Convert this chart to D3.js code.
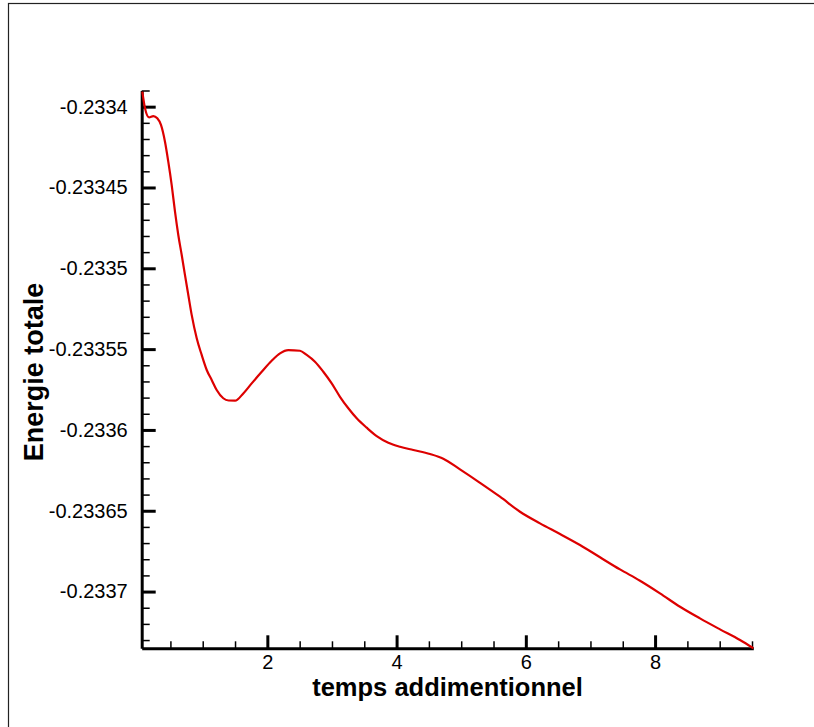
<!DOCTYPE html>
<html>
<head>
<meta charset="utf-8">
<script src="https://cdn.jsdelivr.net/npm/d3@7"></script>
<style>
  html, body { margin: 0; padding: 0; background: #fff; }
  svg { display: block; }
  text { font-family: "Liberation Sans", Arial, sans-serif; }
</style>
</head>
<body>
<script>
// ---- data ----
const tData = [0.065, 0.107, 0.169, 0.235, 0.297, 0.354, 0.416, 0.467, 0.52, 0.571, 0.622, 0.675, 0.725, 0.777, 0.83, 0.907, 0.984, 1.062, 1.139, 1.216, 1.318, 1.4, 1.5, 1.628, 1.758, 1.913, 2.067, 2.196, 2.325, 2.505, 2.609, 2.737, 2.866, 2.996, 3.124, 3.253, 3.383, 3.537, 3.692, 3.872, 4.053, 4.259, 4.517, 4.723, 4.981, 5.291, 5.6, 5.91, 6.219, 6.529, 6.838, 7.148, 7.457, 7.767, 8.076, 8.386, 8.695, 9.005, 9.314, 9.52];
const eData = [-0.2333907, -0.233401, -0.2334066, -0.2334058, -0.2334072, -0.2334113, -0.2334217, -0.233434, -0.2334485, -0.233465, -0.2334794, -0.2334918, -0.2335041, -0.2335165, -0.233529, -0.2335433, -0.2335536, -0.2335629, -0.2335691, -0.2335753, -0.2335804, -0.2335818, -0.2335819, -0.2335774, -0.2335712, -0.233564, -0.2335572, -0.2335526, -0.2335506, -0.233551, -0.2335536, -0.2335578, -0.233564, -0.2335712, -0.2335795, -0.2335866, -0.2335928, -0.2335986, -0.2336038, -0.2336079, -0.2336104, -0.2336124, -0.2336149, -0.2336178, -0.2336244, -0.2336327, -0.2336413, -0.2336506, -0.2336578, -0.2336644, -0.2336712, -0.2336788, -0.2336863, -0.2336933, -0.2337011, -0.2337094, -0.2337166, -0.2337234, -0.23373, -0.2337351];
const xMajorTicks = [2, 4, 6, 8];
const xMajorLabels = ["2", "4", "6", "8"];
const xMinorTicks = [0.5, 1, 1.5, 2.5, 3, 3.5, 4.5, 5, 5.5, 6.5, 7, 7.5, 8.5, 9, 9.5];
const yMajorTicks = [-0.2334, -0.23345, -0.2335, -0.23355, -0.2336, -0.23365, -0.2337];
const yMajorLabels = ["-0.2334", "-0.23345", "-0.2335", "-0.23355", "-0.2336", "-0.23365", "-0.2337"];
const yMinorTicks = [-0.23339, -0.23341, -0.23342, -0.23343, -0.23344, -0.23346, -0.23347, -0.23348, -0.23349, -0.23351, -0.23352, -0.23353, -0.23354, -0.23356, -0.23357, -0.23358, -0.23359, -0.23361, -0.23362, -0.23363, -0.23364, -0.23366, -0.23367, -0.23368, -0.23369, -0.23371, -0.23372, -0.23373];
const xDomain = [0.0557, 9.52];
const yDomain = [-0.2337351, -0.23339];
const xTitle = "temps addimentionnel";
const yTitle = "Energie totale";

// ---- layout ----
const W = 814, H = 727;
const pLeft = 141.7, pRight = 753.3, pTop = 90.5, pBottom = 648.3;
const FONT = "'Liberation Sans', Arial, sans-serif";

const svg = d3.select("body").append("svg").attr("width", W).attr("height", H);

// outer frame (only left & top edges visible in the window)
svg.append("rect").attr("x", 8.5).attr("y", 3.5).attr("width", 900).attr("height", 900)
  .attr("fill", "none").attr("stroke", "#222").attr("stroke-width", 1.2);

const x = d3.scaleLinear().domain(xDomain).range([pLeft, pRight]);
const y = d3.scaleLinear().domain(yDomain).range([pBottom, pTop]);

// minor ticks
svg.append("g").attr("transform", `translate(0,${pBottom})`)
  .call(d3.axisBottom(x).tickValues(xMinorTicks).tickSize(-7).tickFormat(""))
  .call(g => g.select(".domain").remove())
  .call(g => g.selectAll(".tick line").attr("stroke", "#000").attr("stroke-width", 1.5));
svg.append("g").attr("transform", `translate(${pLeft},0)`)
  .call(d3.axisLeft(y).tickValues(yMinorTicks).tickSize(-8).tickFormat(""))
  .call(g => g.select(".domain").remove())
  .call(g => g.selectAll(".tick line").attr("stroke", "#000").attr("stroke-width", 1.5));

// major ticks + labels
svg.append("g").attr("transform", `translate(0,${pBottom})`)
  .call(d3.axisBottom(x).tickValues(xMajorTicks).tickSize(-13).tickSizeOuter(0).tickPadding(7)
    .tickFormat((d, i) => xMajorLabels[i]))
  .attr("font-size", 20).attr("font-family", FONT)
  .call(g => g.select(".domain").attr("stroke", "#000").attr("stroke-width", 3))
  .call(g => g.selectAll(".tick line").attr("stroke", "#000").attr("stroke-width", 3))
  .call(g => g.selectAll(".tick text").attr("fill", "#000"));
svg.append("g").attr("transform", `translate(${pLeft},0)`)
  .call(d3.axisLeft(y).tickValues(yMajorTicks).tickSize(-14).tickSizeOuter(0).tickPadding(14)
    .tickFormat((d, i) => yMajorLabels[i]))
  .attr("font-size", 20).attr("font-family", FONT)
  .call(g => g.select(".domain").attr("stroke", "#000").attr("stroke-width", 3))
  .call(g => g.selectAll(".tick line").attr("stroke", "#000").attr("stroke-width", 3))
  .call(g => g.selectAll(".tick text").attr("fill", "#000"));

// curve
const pts = tData.map((t, i) => [t, eData[i]]);
svg.append("path").datum(pts)
  .attr("fill", "none").attr("stroke", "#dd0000").attr("stroke-width", 2.2)
  .attr("stroke-linejoin", "round")
  .attr("d", d3.line().x(d => x(d[0])).y(d => y(d[1])).curve(d3.curveMonotoneX));

// titles
svg.append("text").attr("x", (pLeft + pRight) / 2).attr("y", 696)
  .attr("text-anchor", "middle").attr("font-size", 25.5).attr("font-weight", "bold")
  .attr("font-family", FONT).text(xTitle);
svg.append("text").attr("transform", "translate(43,372) rotate(-90)")
  .attr("text-anchor", "middle").attr("font-size", 27).attr("font-weight", "bold")
  .attr("font-family", FONT).text(yTitle);
</script>
</body>
</html>
